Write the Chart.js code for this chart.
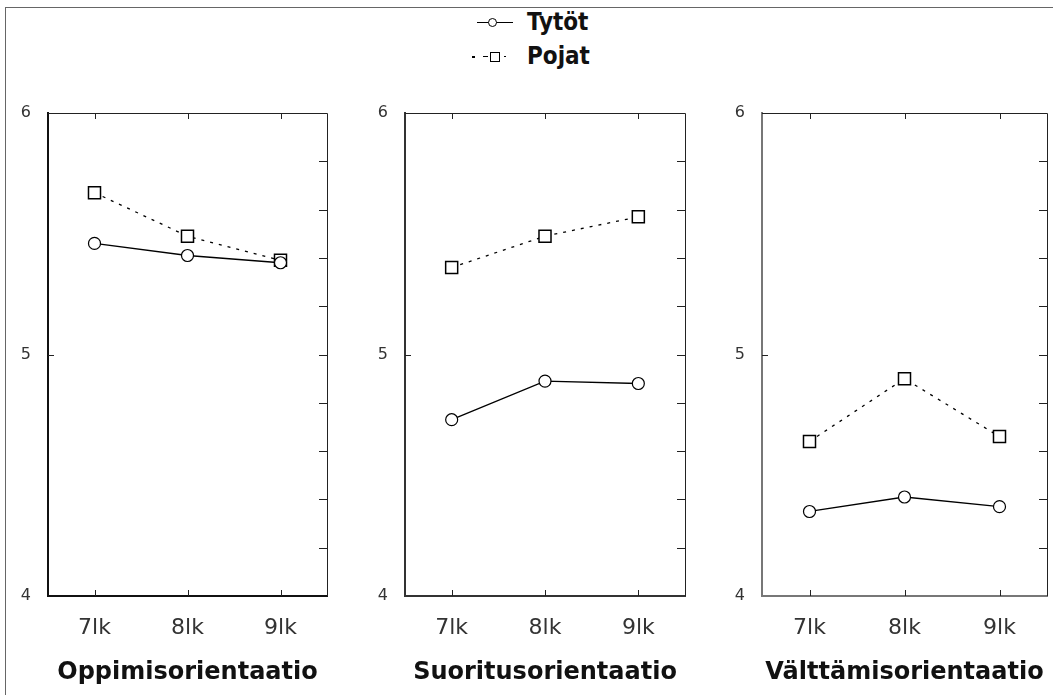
<!DOCTYPE html>
<html>
<head>
<meta charset="utf-8">
<script src="https://cdn.jsdelivr.net/npm/chart.js@4.4.1/dist/chart.umd.min.js"></script>
<style>
  html, body { margin: 0; padding: 0; background: #fff; }
  body { width: 1053px; height: 695px; position: relative; overflow: hidden; }
  #frame { position: absolute; left: 5px; top: 7px; width: 1060px; height: 700px;
           border-left: 1px solid #666; border-top: 1px solid #666; }
  canvas { position: absolute; top: 100px; }
  .leg { position: absolute; left: 470px; height: 30px; }
  .leg .txt { position: absolute; left: 57px; top: 0; line-height: 30px;
              font: bold 24px "DejaVu Sans Condensed", "DejaVu Sans", sans-serif;
              font-stretch: condensed; color: #111; white-space: nowrap; }
  .leg .ln { position: absolute; left: 7px; width: 36px; top: 14px; border-top: 1px solid #000; }
  .leg .dot { position: absolute; top: 14px; width: 3px; height: 2px; background: #000; }
  .leg .mk { position: absolute; background: #fff; border: 1px solid #000; }
</style>
</head>
<body>
<div id="frame"></div>

<div class="leg" style="top:8px">
  <div class="ln"></div>
  <div class="mk" style="left:18px;top:10px;width:7px;height:7px;border-radius:50%"></div>
  <div class="txt">Tytöt</div>
</div>
<div class="leg" style="top:42px">
  <div class="dot" style="left:2px"></div>
  <div class="dot" style="left:13px;width:5px;height:1px"></div>
  <div class="mk" style="left:20px;top:10px;width:8px;height:8px"></div>
  <div class="dot" style="left:34px;width:2px;height:1px"></div>
  <div class="txt">Pojat</div>
</div>

<canvas id="p1" width="325" height="595" style="left:4px"></canvas>
<canvas id="p2" width="326" height="595" style="left:361px"></canvas>
<canvas id="p3" width="331" height="595" style="left:718px"></canvas>

<script>
const cats = ['7lk', '8lk', '9lk'];
const rightTicks = [4.2, 4.4, 4.6, 4.8, 5.0, 5.2, 5.4, 5.6, 5.8];

const oppTytot = [5.46, 5.41, 5.38];
const oppPojat = [5.67, 5.49, 5.39];
const suoTytot = [4.73, 4.89, 4.88];
const suoPojat = [5.36, 5.49, 5.57];
const valTytot = [4.35, 4.41, 4.37];
const valPojat = [4.64, 4.90, 4.66];

// top/right frame and the little inward ticks
const frameTicks = {
    id: 'frameTicks',
    afterDraw(chart) {
        const { ctx, chartArea: a, scales: { x, y } } = chart;
        ctx.save();
        ctx.strokeStyle = '#222';
        ctx.lineWidth = 1;
        ctx.beginPath();
        ctx.moveTo(a.left, a.top + 0.5);
        ctx.lineTo(a.right + 0.5, a.top + 0.5);
        ctx.lineTo(a.right + 0.5, a.bottom);
        cats.forEach((c, i) => {
            const px = Math.round(x.getPixelForValue(i)) + 0.5;
            ctx.moveTo(px, a.top);
            ctx.lineTo(px, a.top + 6);
            ctx.moveTo(px, a.bottom);
            ctx.lineTo(px, a.bottom - 6);
        });
        rightTicks.forEach(v => {
            const py = Math.round(y.getPixelForValue(v)) + 0.5;
            ctx.moveTo(a.right, py);
            ctx.lineTo(a.right - 8, py);
        });
        const p5 = Math.round(y.getPixelForValue(5)) + 0.5;
        ctx.moveTo(a.left, p5);
        ctx.lineTo(a.left + 6, p5);
        ctx.stroke();
        ctx.restore();
    }
};

function makePanel(id, tytot, pojat, title, axisColor) {
    return new Chart(document.getElementById(id), {
        type: 'line',
        data: {
            labels: cats,
            datasets: [
                {
                    label: 'Tytöt',
                    data: tytot,
                    borderColor: '#000',
                    borderWidth: 1.3,
                    pointStyle: 'circle',
                    pointRadius: 6,
                    pointBackgroundColor: '#fff',
                    pointBorderColor: '#000',
                    pointBorderWidth: 1.2
                },
                {
                    label: 'Pojat',
                    data: pojat,
                    borderColor: '#000',
                    borderWidth: 1.3,
                    borderDash: [3, 6],
                    pointStyle: 'rect',
                    pointRadius: 8.5,
                    pointBackgroundColor: '#fff',
                    pointBorderColor: '#000',
                    pointBorderWidth: 1.5
                }
            ]
        },
        options: {
            responsive: false,
            animation: false,
            layout: { autoPadding: false, padding: { top: 13, right: 2, left: 0, bottom: 0 } },
            plugins: {
                legend: { display: false },
                tooltip: { enabled: false }
            },
            scales: {
                x: {
                    offset: true,
                    grid: { display: false, drawTicks: false },
                    border: { color: axisColor, width: 2 },
                    ticks: {
                        padding: 19,
                        color: '#333',
                        font: { family: 'DejaVu Sans', size: 22 }
                    },
                    title: {
                        display: true,
                        text: title,
                        color: '#111',
                        font: { family: 'DejaVu Sans', size: 24, weight: 'bold' },
                        padding: { top: 0, bottom: 8 }
                    },
                    afterFit: s => { s.height = 99; s.paddingLeft = 0; s.paddingRight = 0; }
                },
                y: {
                    min: 4,
                    max: 6,
                    grid: { display: false, drawTicks: false },
                    border: { color: axisColor, width: 2 },
                    ticks: {
                        stepSize: 1,
                        padding: 17,
                        color: '#333',
                        font: { family: 'DejaVu Sans', size: 16 }
                    },
                    afterFit: s => { s.width = 44; s.paddingTop = 0; s.paddingBottom = 0; }
                }
            }
        },
        plugins: [frameTicks]
    });
}

makePanel('p1', oppTytot, oppPojat, 'Oppimisorientaatio', '#111');
makePanel('p2', suoTytot, suoPojat, 'Suoritusorientaatio', '#333');
makePanel('p3', valTytot, valPojat, 'Välttämisorientaatio', '#777');
</script>
</body>
</html>
